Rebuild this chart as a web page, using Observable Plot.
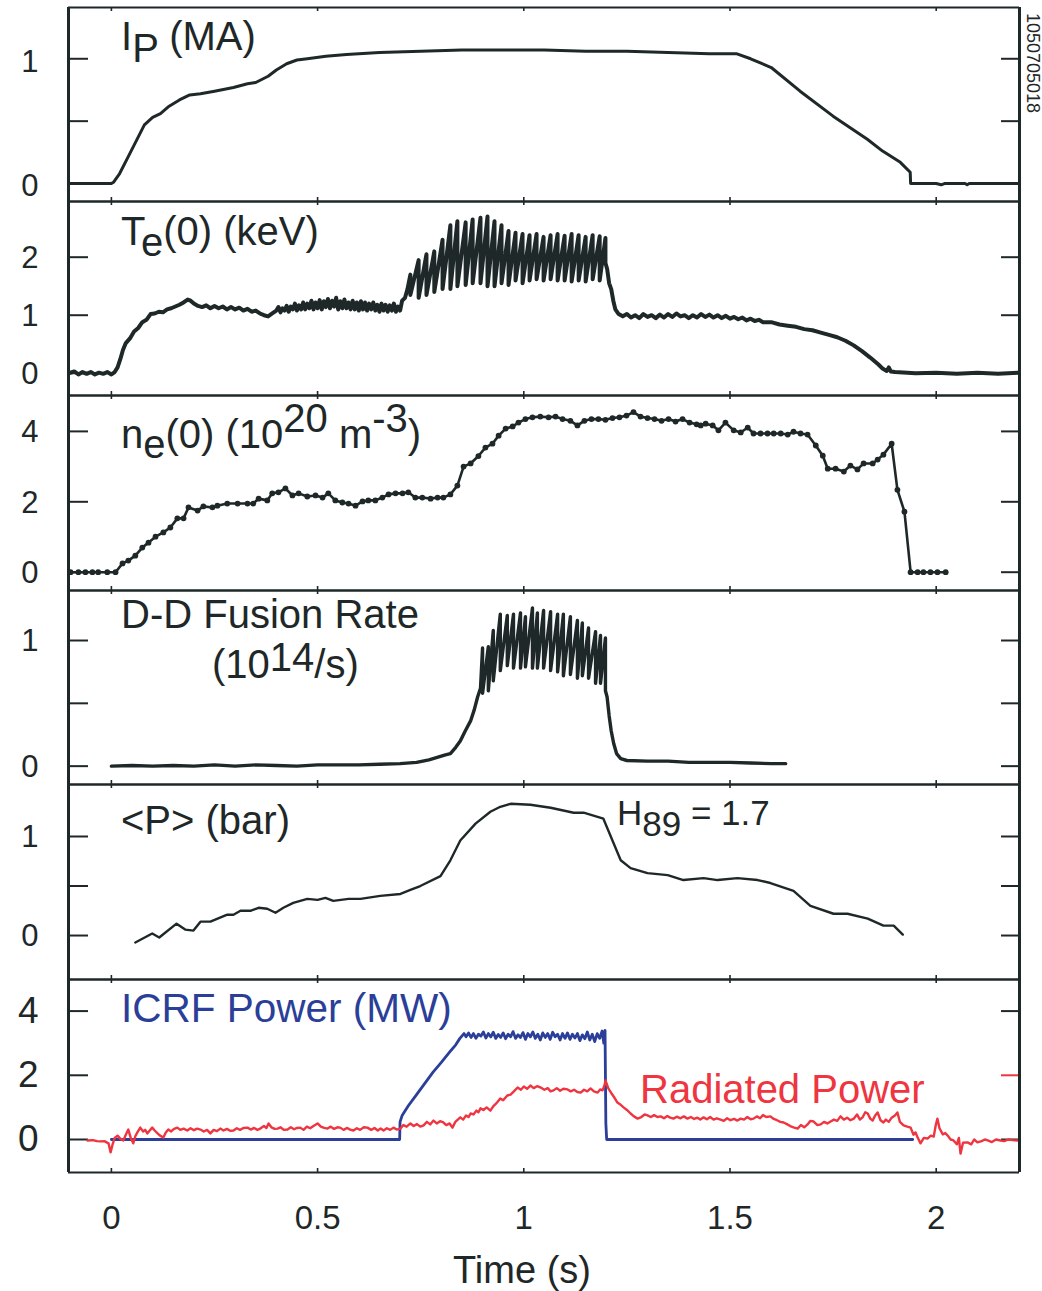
<!DOCTYPE html>
<html><head><meta charset="utf-8">
<script src="https://cdn.jsdelivr.net/npm/d3@7"></script>
<script src="https://cdn.jsdelivr.net/npm/@observablehq/plot@0.6"></script>
<style>
body{margin:0;background:#fff;}
#chart{position:relative;width:1042px;height:1291px;background:#fff;}
#chart svg{position:absolute;left:0;overflow:visible;}
</style></head><body><div id="chart"></div>
<script>
const FONT = '"Liberation Sans", Arial, Helvetica, sans-serif';
const INK = "#1f2828", BLUE = "#2b3f99", RED = "#ee3540";
const timeDomain = [-0.104, 2.202];
const xTicks = [0, 0.5, 1, 1.5, 2];

// ---------- data (time s, value) ----------
const plasmaCurrent = [[-0.104,0],[0.0,0],[0.005,0.01],[0.02,0.08],[0.04,0.21],[0.06,0.34],[0.08,0.47],[0.1,0.53],[0.119,0.56],[0.14,0.62],[0.165,0.67],[0.19,0.71],[0.216,0.72],[0.25,0.74],[0.296,0.77],[0.33,0.8],[0.35,0.81],[0.38,0.86],[0.4,0.91],[0.425,0.96],[0.45,0.99],[0.475,1.0],[0.52,1.02],[0.57,1.035],[0.65,1.05],[0.75,1.06],[0.85,1.07],[0.95,1.07],[1.05,1.07],[1.15,1.06],[1.25,1.06],[1.35,1.05],[1.45,1.04],[1.517,1.04],[1.55,1.0],[1.6,0.93],[1.67,0.74],[1.75,0.54],[1.833,0.355],[1.87,0.26],[1.913,0.17],[1.937,0.09],[1.938,0.0],[2.0,0.0],[2.012,-0.01],[2.02,0.0],[2.07,0.0],[2.075,-0.01],[2.08,0.0],[2.202,0.0]];

const teBefore = [[-0.104,0.0],[-0.09,0.03],[-0.08,-0.02],[-0.07,0.02],[-0.06,-0.01],[-0.05,0.02],[-0.04,-0.02],[-0.03,0.01],[-0.02,-0.01],[-0.01,0.02],[0.0,-0.02],[0.008,0.02],[0.015,0.1],[0.022,0.25],[0.028,0.4],[0.035,0.52],[0.045,0.6],[0.055,0.72],[0.065,0.78],[0.075,0.88],[0.085,0.92],[0.095,1.02],[0.105,1.03],[0.115,1.06],[0.125,1.05],[0.135,1.1],[0.145,1.12],[0.155,1.15],[0.165,1.18],[0.175,1.22],[0.185,1.27],[0.192,1.25],[0.2,1.2],[0.21,1.16],[0.22,1.14],[0.23,1.17],[0.24,1.12],[0.25,1.16],[0.26,1.12],[0.27,1.15],[0.28,1.1],[0.29,1.14],[0.3,1.1],[0.31,1.13],[0.32,1.08],[0.33,1.11],[0.34,1.06],[0.35,1.08],[0.36,1.03],[0.37,1.0],[0.38,0.98],[0.39,1.03],[0.4,1.08],[0.405,1.14],[0.41,1.05],[0.415,1.12],[0.42,1.08],[0.425,1.16],[0.43,1.06],[0.435,1.15],[0.44,1.1],[0.445,1.2],[0.45,1.08],[0.455,1.17],[0.46,1.1],[0.465,1.22],[0.47,1.1],[0.475,1.2],[0.48,1.12],[0.485,1.25],[0.49,1.1],[0.495,1.22],[0.5,1.12],[0.505,1.26],[0.51,1.1],[0.515,1.24],[0.52,1.14],[0.525,1.28],[0.53,1.12],[0.535,1.25],[0.54,1.15],[0.545,1.3],[0.55,1.1],[0.555,1.24],[0.56,1.12],[0.565,1.27],[0.57,1.12],[0.575,1.22],[0.58,1.1],[0.585,1.25],[0.59,1.1],[0.595,1.22],[0.6,1.08],[0.605,1.24],[0.61,1.1],[0.615,1.22],[0.62,1.08],[0.625,1.2],[0.63,1.1],[0.635,1.22],[0.64,1.08],[0.645,1.18],[0.65,1.06],[0.655,1.2],[0.66,1.08],[0.665,1.18],[0.67,1.06],[0.675,1.17],[0.68,1.08],[0.685,1.2],[0.69,1.06],[0.695,1.15],[0.7,1.08],[0.705,1.25],[0.712,1.3],[0.718,1.45]];
// sawtooth crashes: [time, value before crash, value after crash]
const teSawteeth = [[0.725,1.7,1.35],[0.745,1.95,1.3],[0.764,2.05,1.35],[0.783,2.1,1.4],[0.803,2.3,1.45],[0.822,2.55,1.45],[0.839,2.62,1.5],[0.859,2.6,1.52],[0.876,2.65,1.55],[0.895,2.68,1.55],[0.912,2.7,1.5],[0.929,2.62,1.5],[0.946,2.55,1.55],[0.963,2.45,1.52],[0.98,2.42,1.6],[0.997,2.4,1.55],[1.014,2.38,1.6],[1.031,2.4,1.62],[1.048,2.35,1.6],[1.065,2.38,1.62],[1.082,2.4,1.6],[1.099,2.37,1.6],[1.116,2.4,1.58],[1.133,2.38,1.6],[1.15,2.35,1.58],[1.167,2.38,1.62],[1.184,2.36,1.6],[1.198,2.33,1.9]];
const teAfter = [[1.202,1.8],[1.207,1.55],[1.212,1.45],[1.217,1.25],[1.222,1.1],[1.23,1.02],[1.24,0.98],[1.25,1.02],[1.26,0.96],[1.27,1.0],[1.28,0.95],[1.29,1.02],[1.3,0.97],[1.31,1.0],[1.32,0.95],[1.33,1.01],[1.34,0.96],[1.35,1.02],[1.36,0.97],[1.37,1.03],[1.38,0.98],[1.39,1.0],[1.4,0.95],[1.41,1.0],[1.42,0.96],[1.43,1.02],[1.44,0.97],[1.45,1.01],[1.46,0.96],[1.47,1.0],[1.48,0.95],[1.49,0.99],[1.5,0.94],[1.51,0.97],[1.52,0.93],[1.53,0.96],[1.54,0.91],[1.55,0.94],[1.56,0.9],[1.57,0.92],[1.58,0.88],[1.6,0.88],[1.62,0.84],[1.64,0.82],[1.66,0.8],[1.68,0.76],[1.7,0.74],[1.72,0.7],[1.74,0.66],[1.76,0.62],[1.78,0.56],[1.8,0.48],[1.82,0.38],[1.84,0.27],[1.86,0.15],[1.87,0.08],[1.88,0.04],[1.885,0.1],[1.89,0.03],[1.9,0.02],[1.95,0.0],[2.0,0.01],[2.05,-0.01],[2.1,0.01],[2.15,-0.01],[2.202,0.01]];

const density = [[-0.099,0],[-0.08,0],[-0.063,0],[-0.046,0],[-0.032,0],[-0.01,0],[0.01,0],[0.027,0.25],[0.041,0.33],[0.058,0.47],[0.075,0.7],[0.09,0.84],[0.107,1.01],[0.126,1.13],[0.143,1.27],[0.16,1.53],[0.175,1.53],[0.187,1.84],[0.209,1.75],[0.223,1.87],[0.245,1.84],[0.257,1.89],[0.281,1.95],[0.306,1.95],[0.33,1.95],[0.344,1.95],[0.357,2.09],[0.378,2.04],[0.39,2.24],[0.405,2.27],[0.422,2.38],[0.439,2.18],[0.454,2.24],[0.475,2.15],[0.495,2.18],[0.512,2.12],[0.526,2.24],[0.543,2.04],[0.56,1.98],[0.575,1.95],[0.592,1.89],[0.609,2.01],[0.623,2.04],[0.64,2.04],[0.657,2.12],[0.672,2.21],[0.689,2.24],[0.706,2.24],[0.72,2.27],[0.737,2.12],[0.754,2.12],[0.774,2.09],[0.791,2.12],[0.805,2.12],[0.822,2.21],[0.839,2.46],[0.854,3.0],[0.871,3.09],[0.89,3.3],[0.907,3.54],[0.924,3.65],[0.939,3.88],[0.956,4.08],[0.973,4.14],[0.987,4.25],[1.004,4.35],[1.021,4.4],[1.04,4.42],[1.06,4.4],[1.077,4.42],[1.094,4.35],[1.113,4.3],[1.13,4.17],[1.147,4.3],[1.164,4.35],[1.181,4.35],[1.198,4.33],[1.215,4.38],[1.232,4.4],[1.249,4.45],[1.266,4.55],[1.283,4.42],[1.3,4.38],[1.317,4.35],[1.334,4.3],[1.351,4.35],[1.368,4.28],[1.385,4.35],[1.402,4.25],[1.419,4.2],[1.429,4.17],[1.441,4.22],[1.458,4.17],[1.472,4.03],[1.489,4.25],[1.509,4.03],[1.526,3.97],[1.543,4.11],[1.557,3.94],[1.574,3.94],[1.591,3.94],[1.606,3.94],[1.623,3.94],[1.64,3.91],[1.654,3.99],[1.671,3.94],[1.688,3.91],[1.708,3.6],[1.725,3.31],[1.737,2.94],[1.756,2.94],[1.776,2.86],[1.792,3.03],[1.809,2.92],[1.824,3.09],[1.846,3.09],[1.858,3.2],[1.872,3.34],[1.892,3.65],[1.906,2.34],[1.923,1.72],[1.938,0],[1.955,0],[1.969,0],[1.986,0],[2.003,0],[2.023,0]];

const fusionBefore = [[0.0,0.0],[0.05,0.005],[0.1,0.0],[0.15,0.005],[0.2,0.0],[0.25,0.01],[0.3,0.0],[0.35,0.01],[0.4,0.005],[0.45,0.0],[0.5,0.01],[0.55,0.01],[0.6,0.01],[0.65,0.015],[0.7,0.02],[0.74,0.03],[0.77,0.05],[0.79,0.07],[0.81,0.09],[0.822,0.1],[0.835,0.15],[0.846,0.2],[0.858,0.28],[0.871,0.36],[0.88,0.45],[0.888,0.55],[0.895,0.62]];
const fusionSawteeth = [[0.9,0.94,0.58],[0.914,0.95,0.6],[0.926,1.08,0.68],[0.943,1.21,0.76],[0.96,1.2,0.8],[0.975,1.21,0.78],[0.992,1.22,0.78],[1.004,1.19,0.79],[1.021,1.26,0.78],[1.033,1.22,0.78],[1.048,1.24,0.78],[1.065,1.23,0.76],[1.082,1.21,0.75],[1.096,1.21,0.72],[1.113,1.19,0.73],[1.13,1.16,0.7],[1.142,1.14,0.72],[1.157,1.1,0.7],[1.174,1.07,0.66],[1.186,1.04,0.66],[1.198,1.02,0.6]];
const fusionAfter = [[1.202,0.55],[1.207,0.4],[1.212,0.28],[1.218,0.18],[1.225,0.1],[1.235,0.06],[1.25,0.045],[1.3,0.04],[1.35,0.04],[1.4,0.03],[1.45,0.03],[1.5,0.03],[1.55,0.025],[1.6,0.02],[1.635,0.02]];

const pressure = [[0.058,-0.07],[0.099,0.02],[0.116,-0.02],[0.158,0.12],[0.179,0.06],[0.199,0.05],[0.216,0.14],[0.24,0.14],[0.281,0.21],[0.296,0.21],[0.313,0.25],[0.337,0.25],[0.357,0.28],[0.378,0.27],[0.398,0.23],[0.417,0.28],[0.441,0.33],[0.475,0.37],[0.5,0.36],[0.519,0.38],[0.538,0.35],[0.575,0.37],[0.604,0.37],[0.652,0.4],[0.701,0.42],[0.725,0.46],[0.749,0.5],[0.798,0.6],[0.822,0.76],[0.846,0.96],[0.883,1.13],[0.919,1.25],[0.943,1.3],[0.968,1.33],[1.016,1.32],[1.065,1.29],[1.121,1.24],[1.145,1.24],[1.193,1.18],[1.235,0.76],[1.259,0.68],[1.3,0.63],[1.349,0.61],[1.387,0.56],[1.436,0.58],[1.47,0.56],[1.518,0.58],[1.567,0.56],[1.598,0.53],[1.654,0.45],[1.695,0.3],[1.751,0.22],[1.785,0.22],[1.834,0.17],[1.872,0.1],[1.897,0.1],[1.919,0.01]];

const icrfPower = [[0.0,0],[0.699,0],[0.7,0.55],[0.705,0.75],[0.72,1.05],[0.74,1.4],[0.76,1.75],[0.78,2.1],[0.8,2.4],[0.82,2.72],[0.835,2.95],[0.845,3.15],[0.855,3.3],[0.86,3.2],[0.866,3.32],[0.872,3.18],[0.878,3.3],[0.884,3.15],[0.89,3.28],[0.896,3.22],[0.902,3.35],[0.908,3.16],[0.914,3.3],[0.92,3.2],[0.926,3.34],[0.932,3.15],[0.938,3.27],[0.944,3.18],[0.95,3.32],[0.956,3.14],[0.962,3.28],[0.968,3.2],[0.974,3.36],[0.98,3.15],[0.986,3.26],[0.992,3.18],[0.998,3.33],[1.004,3.12],[1.01,3.3],[1.016,3.2],[1.022,3.35],[1.028,3.15],[1.034,3.28],[1.04,3.1],[1.046,3.32],[1.052,3.18],[1.058,3.3],[1.064,3.12],[1.07,3.34],[1.076,3.2],[1.082,3.28],[1.088,3.1],[1.094,3.3],[1.1,3.15],[1.106,3.32],[1.112,3.12],[1.118,3.28],[1.124,3.16],[1.13,3.3],[1.136,3.08],[1.142,3.26],[1.148,3.14],[1.154,3.35],[1.16,3.1],[1.166,3.28],[1.172,3.05],[1.178,3.3],[1.184,3.15],[1.19,3.38],[1.194,3.0],[1.197,3.4],[1.199,0.5],[1.201,0],[1.943,0]];

const radiatedPower = [[-0.058,-0.03],[-0.045,-0.02],[-0.035,-0.05],[-0.027,-0.06],[-0.017,-0.05],[-0.007,-0.12],[-0.002,-0.4],[0.003,-0.15],[0.008,0.05],[0.015,0.12],[0.022,0.02],[0.029,-0.03],[0.035,0.15],[0.041,0.31],[0.047,0.05],[0.053,-0.12],[0.058,0.1],[0.063,0.22],[0.07,0.37],[0.077,0.25],[0.082,0.3],[0.087,0.19],[0.093,0.28],[0.099,0.37],[0.105,0.28],[0.112,0.19],[0.118,0.12],[0.126,0.06],[0.132,0.22],[0.138,0.31],[0.145,0.25],[0.152,0.33],[0.16,0.37],[0.167,0.3],[0.175,0.34],[0.184,0.28],[0.192,0.35],[0.2,0.29],[0.208,0.34],[0.216,0.31],[0.224,0.25],[0.232,0.3],[0.24,0.19],[0.248,0.3],[0.256,0.26],[0.264,0.34],[0.272,0.28],[0.28,0.33],[0.288,0.27],[0.296,0.28],[0.304,0.35],[0.312,0.3],[0.32,0.36],[0.33,0.37],[0.338,0.31],[0.346,0.36],[0.354,0.3],[0.361,0.34],[0.37,0.42],[0.376,0.36],[0.381,0.5],[0.388,0.38],[0.396,0.33],[0.403,0.34],[0.41,0.38],[0.418,0.3],[0.427,0.31],[0.435,0.38],[0.443,0.32],[0.45,0.36],[0.458,0.37],[0.466,0.3],[0.474,0.4],[0.482,0.35],[0.49,0.42],[0.5,0.5],[0.508,0.4],[0.516,0.36],[0.524,0.34],[0.532,0.4],[0.54,0.33],[0.548,0.38],[0.555,0.37],[0.563,0.3],[0.571,0.36],[0.579,0.31],[0.587,0.28],[0.595,0.35],[0.603,0.3],[0.612,0.38],[0.621,0.37],[0.63,0.3],[0.638,0.36],[0.646,0.28],[0.653,0.34],[0.66,0.28],[0.668,0.35],[0.676,0.3],[0.684,0.37],[0.692,0.31],[0.701,0.34],[0.708,0.45],[0.716,0.4],[0.725,0.5],[0.733,0.42],[0.741,0.48],[0.749,0.4],[0.757,0.44],[0.765,0.55],[0.773,0.47],[0.781,0.59],[0.789,0.5],[0.797,0.57],[0.805,0.53],[0.812,0.45],[0.82,0.5],[0.827,0.37],[0.834,0.55],[0.84,0.62],[0.846,0.69],[0.853,0.62],[0.86,0.75],[0.866,0.7],[0.871,0.81],[0.878,0.78],[0.885,0.9],[0.89,0.85],[0.895,0.97],[0.902,0.92],[0.91,1.0],[0.919,0.9],[0.927,1.05],[0.935,1.15],[0.943,1.28],[0.95,1.22],[0.96,1.37],[0.968,1.4],[0.976,1.5],[0.985,1.62],[0.993,1.55],[1.0,1.65],[1.008,1.58],[1.016,1.68],[1.024,1.6],[1.032,1.66],[1.041,1.62],[1.05,1.55],[1.058,1.6],[1.065,1.5],[1.072,1.53],[1.08,1.6],[1.088,1.52],[1.096,1.58],[1.106,1.56],[1.114,1.5],[1.122,1.55],[1.13,1.48],[1.138,1.46],[1.146,1.55],[1.154,1.5],[1.162,1.59],[1.17,1.5],[1.179,1.46],[1.185,1.56],[1.191,1.53],[1.196,1.7],[1.198,1.84],[1.202,1.7],[1.205,1.59],[1.212,1.45],[1.22,1.3],[1.227,1.15],[1.235,1.08],[1.242,1.0],[1.25,0.92],[1.259,0.81],[1.267,0.72],[1.276,0.65],[1.285,0.7],[1.293,0.78],[1.3,0.75],[1.308,0.7],[1.316,0.76],[1.324,0.7],[1.332,0.72],[1.34,0.66],[1.348,0.73],[1.355,0.68],[1.363,0.65],[1.371,0.71],[1.38,0.66],[1.388,0.72],[1.397,0.65],[1.405,0.7],[1.413,0.64],[1.421,0.68],[1.428,0.62],[1.436,0.69],[1.444,0.63],[1.452,0.7],[1.46,0.62],[1.468,0.66],[1.477,0.62],[1.485,0.58],[1.493,0.66],[1.501,0.6],[1.51,0.64],[1.518,0.59],[1.526,0.65],[1.534,0.62],[1.542,0.7],[1.55,0.63],[1.557,0.65],[1.565,0.72],[1.573,0.66],[1.58,0.76],[1.588,0.7],[1.598,0.72],[1.606,0.64],[1.614,0.6],[1.622,0.55],[1.63,0.53],[1.638,0.48],[1.646,0.42],[1.654,0.38],[1.664,0.34],[1.672,0.45],[1.68,0.38],[1.688,0.47],[1.695,0.58],[1.703,0.56],[1.712,0.45],[1.72,0.47],[1.728,0.55],[1.736,0.5],[1.744,0.56],[1.752,0.62],[1.76,0.58],[1.768,0.72],[1.776,0.62],[1.784,0.68],[1.792,0.6],[1.8,0.65],[1.808,0.78],[1.815,0.62],[1.822,0.7],[1.828,0.85],[1.834,0.81],[1.84,0.65],[1.846,0.59],[1.852,0.75],[1.858,0.84],[1.865,0.6],[1.872,0.53],[1.878,0.62],[1.885,0.55],[1.892,0.68],[1.9,0.75],[1.906,0.84],[1.912,0.55],[1.921,0.44],[1.93,0.4],[1.938,0.37],[1.945,0.15],[1.95,0.22],[1.955,0.06],[1.962,-0.12],[1.97,0.05],[1.979,0.03],[1.987,0.12],[1.994,0.09],[1.999,0.45],[2.003,0.65],[2.008,0.35],[2.016,0.16],[2.022,0.2],[2.028,0.12],[2.035,0.0],[2.042,-0.03],[2.05,-0.15],[2.055,0.05],[2.059,-0.44],[2.065,-0.1],[2.076,-0.09],[2.085,-0.15],[2.092,0.0],[2.1,-0.09],[2.11,-0.05],[2.118,0.0],[2.125,-0.03],[2.135,-0.08],[2.145,0.0],[2.156,-0.03],[2.165,-0.05],[2.175,0.0],[2.185,-0.02],[2.197,-0.03]];

// ---------- helpers ----------
const pts = arr => arr.map(([t, v]) => ({t, v}));
function withTeeth(before, teeth, after) {
  const out = pts(before);
  teeth.forEach(([t, hi, lo]) => { out.push({t, v: hi}); out.push({t, v: lo}); });
  return out.concat(pts(after));
}

const W = 1042, ML = 68, MR = 23;
const innerW = W - ML - MR;
const chart = document.getElementById("chart");

function panel({top, bottom, yDomain, ticks, labels, labelSize, labelDy = 0, marks, xAxis = false, rightStroke = () => INK}) {
  const h = bottom - top;
  const mb = xAxis ? 1291 - bottom : 0;
  const all = [
    Plot.tickY(ticks, {y: d => d, stroke: INK, strokeWidth: 2, insetRight: innerW - 20}),
    Plot.tickY(ticks, {y: d => d, stroke: rightStroke, strokeWidth: 2, insetLeft: innerW - 18}),
    Plot.tickX(xTicks, {x: d => d, stroke: INK, strokeWidth: 1.6, insetBottom: h - 4}),
    Plot.tickX(xTicks, {x: d => d, stroke: INK, strokeWidth: 1.6, insetTop: h - 4}),
    Plot.axisY(labels, {anchor: "left", label: null, tickSize: 0, tickPadding: 30, dy: labelDy, fontSize: labelSize, tickFormat: d => String(d)}),
    ...marks,
    Plot.ruleY([yDomain[1]], {stroke: INK, strokeWidth: 2.2}),
    Plot.ruleY([yDomain[0]], {stroke: INK, strokeWidth: 2.2}),
    Plot.ruleX([timeDomain[0]], {stroke: INK, strokeWidth: 3}),
    Plot.ruleX([timeDomain[1]], {stroke: INK, strokeWidth: 3})
  ];
  if (xAxis) all.push(Plot.axisX(xTicks, {anchor: "bottom", label: null, tickSize: 0, tickPadding: 33, fontSize: 33, tickFormat: d => String(d)}));
  const svg = Plot.plot({
    width: W, height: h + mb,
    marginLeft: ML, marginRight: MR, marginTop: 0, marginBottom: mb,
    x: {domain: timeDomain, axis: null, label: null},
    y: {domain: yDomain, axis: null, label: null},
    style: {background: "transparent", overflow: "visible", color: INK, fontFamily: FONT},
    marks: all
  });
  svg.style.position = "absolute";
  svg.style.top = top + "px";
  svg.style.left = "0px";
  chart.appendChild(svg);
}

const lineOpts = (stroke, w) => ({x: "t", y: "v", stroke, strokeWidth: w, strokeLinejoin: "round", clip: true});

panel({top: 7, bottom: 201, yDomain: [-0.144, 1.411], ticks: [0, 0.5, 1], labels: [0, 1], labelSize: 31, labelDy: 3,
  marks: [Plot.line(pts(plasmaCurrent), lineOpts(INK, 3))]});
panel({top: 201, bottom: 395, yDomain: [-0.384, 2.96], ticks: [0, 1, 2], labels: [0, 1, 2], labelSize: 31, labelDy: 1,
  marks: [Plot.line(withTeeth(teBefore, teSawteeth, teAfter), lineOpts(INK, 4))]});
panel({top: 395, bottom: 590, yDomain: [-0.52, 5.02], ticks: [0, 2, 4], labels: [0, 2, 4], labelSize: 31, labelDy: 1,
  marks: [Plot.line(pts(density), lineOpts(INK, 2.6)), Plot.dot(pts(density), {x: "t", y: "v", r: 2.9, fill: INK})]});
panel({top: 590, bottom: 784, yDomain: [-0.146, 1.398], ticks: [0, 0.5, 1], labels: [0, 1], labelSize: 31, labelDy: 1,
  marks: [Plot.line(withTeeth(fusionBefore, fusionSawteeth, fusionAfter), lineOpts(INK, 3.4))]});
panel({top: 784, bottom: 979, yDomain: [-0.444, 1.525], ticks: [0, 0.5, 1], labels: [0, 1], labelSize: 31, labelDy: 1,
  marks: [Plot.line(pts(pressure), lineOpts(INK, 2.4))]});
panel({top: 979, bottom: 1172, yDomain: [-1.028, 4.984], ticks: [0, 2, 4], labels: [0, 2, 4], labelSize: 37, xAxis: true,
  rightStroke: d => d === 2 ? RED : INK,
  marks: [Plot.line(pts(icrfPower), lineOpts(BLUE, 2.8)), Plot.line(pts(radiatedPower), lineOpts(RED, 2.4))]});

// ---------- annotation text ----------
const ov = d3.select(chart).append("svg")
  .attr("width", W).attr("height", 1291)
  .style("position", "absolute").style("top", "0px").style("left", "0px")
  .style("font-family", FONT);
function label(x, y, parts, size, color = INK) {
  const t = ov.append("text").attr("x", x).attr("y", y).attr("font-size", size).attr("fill", color);
  let prev = 0;
  parts.forEach(([s, shift = 0]) => {
    t.append("tspan").attr("dy", shift - prev).text(s);
    prev = shift;
  });
  return t;
}
label(121, 50, [["I"], ["P", 12], [" (MA)", 0]], 40);
label(121, 245, [["T"], ["e", 11], ["(0) (keV)", 0]], 40);
label(121, 448, [["n"], ["e", 10], ["(0) (10", 0], ["20", -16], [" m", 0], ["-3", -16], [")", 0]], 40);
label(121, 628, [["D-D Fusion Rate"]], 40);
label(212, 678, [["(10"], ["14", -7], ["/s)", 0]], 40);
label(121, 834, [["<P> (bar)"]], 40);
label(617, 825, [["H"], ["89", 11], [" = 1.7", 0]], 35);
label(121, 1022, [["ICRF Power (MW)"]], 40.5, BLUE);
label(640, 1103, [["Radiated Power"]], 40, RED);
label(522, 1283, [["Time (s)"]], 38).attr("text-anchor", "middle");
ov.append("text").attr("transform", "translate(1027,13) rotate(90)")
  .attr("font-size", 18).attr("fill", INK).text("1050705018");
</script></body></html>
